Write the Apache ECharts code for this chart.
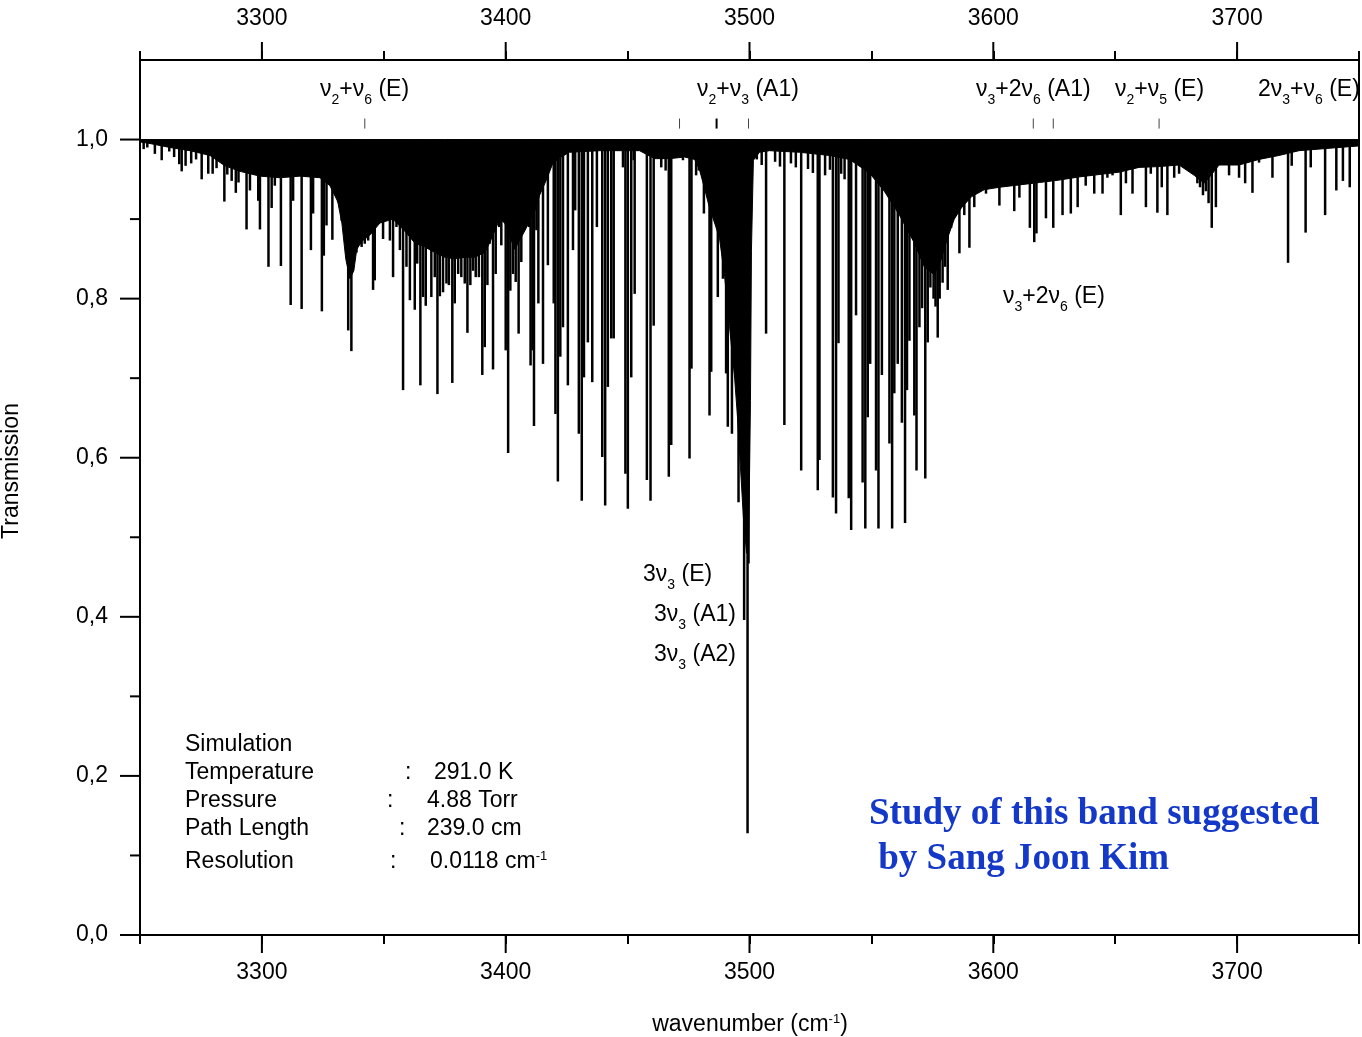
<!DOCTYPE html>
<html>
<head>
<meta charset="utf-8">
<script src="https://cdn.jsdelivr.net/npm/echarts@6/dist/echarts.min.js"></script>
<style>
  html, body { margin: 0; padding: 0; background: #fff; }
  #chart { width: 1362px; height: 1037px; }
</style>
</head>
<body>
<div id="chart"></div>
<script>
// Axis ranges and tick values
const X_MIN = 3250, X_MAX = 3750;
const Y_MIN = 0, Y_MAX = 1.1;
const xMajorTicks = [3300, 3400, 3500, 3600, 3700];
const yMajorTicks = [0, 0.2, 0.4, 0.6, 0.8, 1.0];
const yMinorTicks = [0.1, 0.3, 0.5, 0.7, 0.9];

// Individual absorption lines: [wavenumber (cm-1), transmission at line centre]
const linesLow = [
  [3251.5,0.988],[3253.0,0.990],[3256.1,0.982],[3258.9,0.974],[3262.0,0.985],[3264.0,0.978],
  [3266.1,0.969],[3267.1,0.960],[3268.7,0.967],[3271.0,0.970],[3273.0,0.975],[3275.3,0.950],
  [3278.0,0.957],[3279.8,0.957],[3281.4,0.964],[3284.6,0.922],[3285.8,0.956],[3287.6,0.948],
  [3289.3,0.933],[3290.4,0.946],[3293.7,0.887],[3295.1,0.936],[3298.5,0.923],[3299.2,0.887],
  [3302.7,0.840],[3304.0,0.914],[3305.3,0.942],[3307.8,0.841],[3311.8,0.792],[3312.8,0.923],
  [3316.3,0.787],[3320.1,0.861],[3321.0,0.907],[3324.6,0.784],[3325.4,0.854],[3326.5,0.892],
  [3328.9,0.874]
];
const linesNu2Nu6 = [
  [3331.3,0.921],[3332.7,0.898],[3335.4,0.760],[3336.7,0.734],[3338.8,0.858],[3339.5,0.877],
  [3340.9,0.865],[3342.2,0.869],[3343.6,0.873],[3344.9,0.882],[3345.6,0.811],[3346.3,0.823],
  [3347.7,0.902],[3349.0,0.898],[3349.7,0.875],[3350.4,0.917],[3351.8,0.919],[3352.5,0.873],
  [3353.8,0.827],[3355.2,0.890],[3356.6,0.861],[3357.9,0.685],[3359.3,0.840],[3360.7,0.798],
  [3362.7,0.786],[3363.7,0.844],[3365.0,0.691],[3366.1,0.802],[3367.2,0.791],[3369.5,0.802],
  [3370.9,0.827],[3372.0,0.680],[3373.0,0.803],[3374.3,0.808],[3375.7,0.819],[3376.7,0.817],
  [3378.1,0.694],[3379.1,0.794],[3380.5,0.831],[3381.8,0.827],[3383.2,0.819],[3384.3,0.757],
  [3385.5,0.817],[3386.6,0.835],[3387.7,0.827],[3389.0,0.827],[3390.4,0.704],[3391.4,0.739],
  [3392.5,0.817],[3393.4,0.869],[3394.8,0.711],[3395.9,0.831],[3397.3,0.890],[3398.2,0.867],
  [3399.3,0.910],[3400.0,0.735],[3401.0,0.606],[3401.9,0.810],[3403.0,0.831],[3404.1,0.821],
  [3405.3,0.756],[3406.4,0.846],[3409.6,0.890],[3410.2,0.716],[3411.0,0.735],[3411.6,0.640],
  [3412.6,0.886],[3413.4,0.794]
];
const linesPBranch = [
  [3415.3,0.718],[3417.3,0.842],[3419.7,0.794],[3420.4,0.655],[3421.4,0.570],[3422.4,0.727],
  [3423.5,0.764],[3425.5,0.691],[3427.6,0.861],[3428.5,0.911],[3430.0,0.630],[3431.2,0.546],
  [3432.1,0.701],[3433.7,0.745],[3435.5,0.695],[3437.4,0.890],[3439.6,0.601],[3440.8,0.540],
  [3441.9,0.689],[3443.3,0.750],[3444.3,0.750],[3448.1,0.965],[3449.1,0.580],[3450.1,0.536],
  [3451.5,0.701],[3452.5,0.974],[3452.9,0.806],[3457.9,0.572],[3459.4,0.546],[3460.7,0.766],
  [3461.8,0.977],[3463.8,0.965],[3465.6,0.961],[3466.9,0.576],[3467.9,0.616],[3469.3,0.977],
  [3472.7,0.974],[3475.4,0.599],[3476.2,0.712],[3478.1,0.955],[3479.2,0.961]
];
const linesQBranch = [
  [3481.3,0.907],[3483.6,0.653],[3484.3,0.708],[3487.0,0.802],[3489.1,0.825],[3490.4,0.706],
  [3491.1,0.639],[3492.1,0.783],[3492.8,0.630],[3493.9,0.714],[3495.5,0.544],[3497.8,0.396],
  [3499.2,0.128],[3499.6,0.467]
];
const linesRBranch = [
  [3503.0,0.975],[3505.0,0.968],[3506.8,0.756],[3510.5,0.972],[3512.5,0.966],[3514.3,0.641],
  [3517.0,0.970],[3519.0,0.965],[3521.2,0.584],[3524.0,0.963],[3526.0,0.958],[3528.0,0.559],
  [3528.7,0.597],[3531.0,0.955],[3533.0,0.962],[3534.2,0.550],[3535.5,0.530],[3536.5,0.744],
  [3537.6,0.957],[3539.0,0.950],[3540.7,0.549],[3541.7,0.509],[3543.7,0.779],[3546.4,0.569],
  [3547.5,0.511],[3548.5,0.651],[3549.5,0.718],[3551.9,0.584],[3552.9,0.511],[3554.3,0.704],
  [3557.4,0.618],[3558.5,0.511],[3559.4,0.681],[3560.8,0.718],[3562.5,0.644],[3563.8,0.518],
  [3564.6,0.685],[3565.6,0.747],[3567.6,0.653],[3568.5,0.584],[3569.7,0.764],[3570.8,0.788],
  [3572.1,0.574],[3573.1,0.745],[3574.2,0.814],[3575.5,0.800],[3576.3,0.790],[3577.2,0.751],
  [3578.0,0.800],[3579.2,0.820],[3580.2,0.840]
];
const linesHigh = [
  [3581.3,0.811],[3582.7,0.889],[3584.4,0.905],[3586.1,0.857],[3588.1,0.905],[3590.2,0.864],
  [3592.2,0.915],[3594.3,0.936],[3597.0,0.932],[3599.7,0.970],[3602.5,0.917],[3605.2,0.946],
  [3608.6,0.910],[3610.7,0.927],[3615.0,0.889],[3616.8,0.871],[3617.7,0.882],[3621.6,0.901],
  [3624.6,0.889],[3628.4,0.905],[3631.8,0.907],[3634.6,0.915],[3637.9,0.942],[3641.4,0.932],
  [3644.8,0.932],[3646.8,0.952],[3648.9,0.955],[3652.3,0.905],[3654.4,0.945],[3657.1,0.932],
  [3662.6,0.915],[3664.6,0.957],[3667.3,0.908],[3669.1,0.940],[3671.4,0.905],[3674.2,0.952],
  [3676.2,0.957],[3683.7,0.945],[3684.8,0.940],[3686.0,0.930],[3687.2,0.935],[3688.3,0.920],
  [3689.6,0.889],[3691.3,0.915],[3696.7,0.955],[3700.8,0.952],[3703.3,0.945],[3706.3,0.933],
  [3709.0,0.971],[3714.5,0.952],[3720.9,0.845],[3722.4,0.967],[3728.1,0.883],[3730.2,0.965],
  [3736.1,0.905],[3740.7,0.936],[3743.4,0.948],[3746.2,0.940]
];

// Lower edge of the unresolved dense line background: wavenumber and transmission
const envelopeWn = [
  3250,3254.1,3262.3,3270.5,3278.7,3284.8,3291.0,3299.2,3307.4,3315.6,3323.8,3327.9,3331.1,
  3332.8,3334.4,3336.1,3337.7,3338.9,3341.0,3344.3,3348.4,3353.7,3358.6,3362.7,3366.8,3370.9,
  3375.0,3379.1,3383.2,3387.3,3391.4,3393.4,3395.5,3397.5,3399.6,3403.7,3407.8,3411.9,3413.9,
  3416.8,3419.3,3422.1,3426.2,3438.5,3454.9,3461.1,3467.2,3473.4,3477.5,3479.5,3481.6,3483.6,
  3485.7,3487.7,3489.8,3491.8,3493.9,3495.1,3496.3,3497.5,3498.8,3499.6,3500.4,3500.8,3501.6,
  3504.1,3508.2,3520.5,3532.8,3541.0,3549.2,3555.3,3561.5,3567.6,3571.7,3575.8,3578.7,3581.1,
  3584.0,3586.9,3591.0,3596.3,3602.5,3610.7,3618.9,3627.0,3635.2,3643.4,3651.6,3659.8,3668.0,
  3676.2,3682.4,3686.5,3689.3,3692.6,3700.8,3709.0,3717.2,3725.4,3737.7,3750
];
const envelopeT = [
  0.997,0.995,0.990,0.986,0.980,0.967,0.960,0.954,0.952,0.954,0.952,0.942,0.922,
  0.895,0.850,0.825,0.835,0.862,0.872,0.880,0.895,0.900,0.885,0.870,0.865,0.858,
  0.852,0.850,0.852,0.852,0.858,0.870,0.885,0.900,0.895,0.862,0.885,0.910,0.930,
  0.950,0.970,0.977,0.984,0.986,0.986,0.976,0.976,0.978,0.975,0.962,0.938,0.914,
  0.895,0.876,0.828,0.765,0.700,0.650,0.588,0.525,0.480,0.480,0.672,0.861,0.974,
  0.984,0.986,0.984,0.980,0.975,0.958,0.935,0.905,0.870,0.840,0.830,0.850,0.875,
  0.900,0.914,0.928,0.937,0.940,0.943,0.946,0.949,0.953,0.956,0.959,0.965,0.966,
  0.968,0.955,0.945,0.955,0.968,0.968,0.975,0.980,0.986,0.989,0.992
];

// Band origin markers under the top labels
const bandMarks = [3342.2, 3471.3, 3486.5, 3499.6, 3616.4, 3624.6, 3668.0];
const strongMark = 3486.5;

const allLines = [].concat(linesLow, linesNu2Nu6, linesPBranch, linesQBranch, linesRBranch, linesHigh);
const envelope = envelopeWn.map((w, i) => [w, envelopeT[i]]);

const FONT = "'Liberation Sans', Arial, Helvetica, sans-serif";
const SERIF = "'Liberation Serif', 'Times New Roman', serif";

const rich = {
  m: { fontSize: 23, lineHeight: 24, verticalAlign: 'top', fontFamily: FONT, fill: '#000', color: '#000' },
  s: { fontSize: 14, lineHeight: 14, padding: [15, 0, 0, 0], verticalAlign: 'top', fontFamily: FONT, fill: '#000', color: '#000' },
  p: { fontSize: 13, lineHeight: 8, verticalAlign: 'top', fontFamily: FONT, fill: '#000', color: '#000' }
};

function richText(str, x, y, align) {
  return {
    type: 'text', x: x, y: y, silent: true, z: 100,
    style: { text: str, rich: rich, font: '23px ' + FONT, fill: '#000', align: align || 'left', verticalAlign: 'top' }
  };
}
function plainText(str, x, y) {
  return {
    type: 'text', x: x, y: y, silent: true, z: 100,
    style: { text: str, font: '23px ' + FONT, fill: '#000', align: 'left', verticalAlign: 'top' }
  };
}

const chart = echarts.init(document.getElementById('chart'), null, { renderer: 'canvas', width: 1362, height: 1037 });

const axisLineStyle = { color: '#000', width: 2 };
const xLabelFmt = v => (Math.round(v) % 100 === 0 ? String(Math.round(v)) : '');

const option = {
  animation: false,
  backgroundColor: '#fff',
  grid: { left: 140, right: 2, top: 60, bottom: 102, show: false },
  xAxis: [
    {
      type: 'value', min: X_MIN, max: X_MAX, interval: 50, position: 'bottom',
      axisLine: { show: true, onZero: false, lineStyle: axisLineStyle },
      axisTick: { show: true, inside: false, length: 9, lineStyle: { color: '#000', width: 2 } },
      axisLabel: { formatter: xLabelFmt, fontSize: 23, fontFamily: FONT, color: '#000', margin: 26 },
      splitLine: { show: false }
    },
    {
      type: 'value', min: X_MIN, max: X_MAX, interval: 50, position: 'top',
      axisLine: { show: true, onZero: false, lineStyle: axisLineStyle },
      axisTick: { show: true, inside: false, length: 9, lineStyle: { color: '#000', width: 2 } },
      axisLabel: { formatter: xLabelFmt, fontSize: 23, fontFamily: FONT, color: '#000', margin: 30 },
      splitLine: { show: false }
    }
  ],
  yAxis: [
    {
      type: 'value', min: Y_MIN, max: Y_MAX, interval: 0.2, position: 'left',
      axisLine: { show: true, onZero: false, lineStyle: axisLineStyle },
      axisTick: { show: false },
      axisLabel: {
        formatter: v => v.toFixed(1).replace('.', ','), showMaxLabel: false,
        fontSize: 23, fontFamily: FONT, color: '#000', margin: 32
      },
      splitLine: { show: false }
    },
    {
      type: 'value', min: Y_MIN, max: Y_MAX, interval: 0.2, position: 'right',
      axisLine: { show: true, onZero: false, lineStyle: axisLineStyle },
      axisTick: { show: false }, axisLabel: { show: false }, splitLine: { show: false }
    }
  ],
  series: [
    {
      // dense unresolved background absorption
      type: 'custom', xAxisIndex: 0, yAxisIndex: 0, silent: true, clip: true,
      data: [envelope[0]],
      renderItem: (params, api) => {
        const pts = envelope.map(p => api.coord(p));
        pts.push(api.coord([X_MAX, 1.0]));
        pts.push(api.coord([X_MIN, 1.0]));
        return { type: 'polygon', shape: { points: pts }, style: { fill: '#000', stroke: '#000', lineWidth: 1 } };
      }
    },
    {
      // resolved absorption lines hanging from 100 % transmission
      type: 'custom', xAxisIndex: 0, yAxisIndex: 0, silent: true, clip: true,
      data: allLines,
      renderItem: (params, api) => {
        const x = api.value(0), t = api.value(1);
        const a = api.coord([x, 1.0]);
        const b = api.coord([x, t]);
        return { type: 'line', shape: { x1: a[0], y1: a[1], x2: a[0], y2: b[1] }, style: { stroke: '#000', lineWidth: 2.5 } };
      }
    },
    {
      // band origin markers
      type: 'custom', xAxisIndex: 0, yAxisIndex: 0, silent: true, clip: false,
      data: bandMarks.map(v => [v, 1.02]),
      renderItem: (params, api) => {
        const v = api.value(0);
        const a = api.coord([v, 1.0138]);
        const b = api.coord([v, 1.0264]);
        return { type: 'line', shape: { x1: a[0], y1: a[1], x2: b[0], y2: b[1] },
          style: { stroke: v === strongMark ? '#000' : '#444', lineWidth: v === strongMark ? 2 : 1 } };
      }
    },
    {
      // long major ticks on the bottom and top wavenumber axes
      type: 'custom', xAxisIndex: 0, yAxisIndex: 0, silent: true, clip: false,
      data: xMajorTicks.map(v => [v, 0]),
      renderItem: (params, api) => {
        const v = api.value(0);
        const b = api.coord([v, Y_MIN]);
        const t = api.coord([v, Y_MAX]);
        return { type: 'group', children: [
          { type: 'line', shape: { x1: b[0], y1: b[1], x2: b[0], y2: b[1] + 18 }, style: { stroke: '#000', lineWidth: 2 } },
          { type: 'line', shape: { x1: t[0], y1: t[1], x2: t[0], y2: t[1] - 18 }, style: { stroke: '#000', lineWidth: 2 } }
        ] };
      }
    },
    {
      // transmission axis ticks (major long, minor short)
      type: 'custom', xAxisIndex: 0, yAxisIndex: 0, silent: true, clip: false,
      data: yMajorTicks.map(v => [X_MIN, v, 1]).concat(yMinorTicks.map(v => [X_MIN, v, 0])),
      renderItem: (params, api) => {
        const v = api.value(1), major = api.value(2) === 1;
        const p = api.coord([X_MIN, v]);
        const len = major ? 20 : 10;
        return { type: 'line', shape: { x1: p[0], y1: p[1], x2: p[0] - len, y2: p[1] }, style: { stroke: '#000', lineWidth: 2 } };
      }
    }
  ],
  graphic: [
    richText('{m|ν}{s|2}{m|+ν}{s|6}{m| (E)}', 320, 78),
    richText('{m|ν}{s|2}{m|+ν}{s|3}{m| (A1)}', 697, 78),
    richText('{m|ν}{s|3}{m|+2ν}{s|6}{m| (A1)}', 976, 78),
    richText('{m|ν}{s|2}{m|+ν}{s|5}{m| (E)}', 1115, 78),
    richText('{m|2ν}{s|3}{m|+ν}{s|6}{m| (E)}', 1258, 78),
    richText('{m|ν}{s|3}{m|+2ν}{s|6}{m| (E)}', 1003, 285),
    richText('{m|3ν}{s|3}{m| (E)}', 643, 563),
    richText('{m|3ν}{s|3}{m| (A1)}', 654, 603),
    richText('{m|3ν}{s|3}{m| (A2)}', 654, 643),

    plainText('Simulation', 185, 733),
    plainText('Temperature', 185, 761),
    plainText(':', 405, 761),
    plainText('291.0 K', 434, 761),
    plainText('Pressure', 185, 789),
    plainText(':', 387, 789),
    plainText('4.88 Torr', 427, 789),
    plainText('Path Length', 185, 817),
    plainText(':', 399, 817),
    plainText('239.0 cm', 427, 817),
    plainText('Resolution', 185, 850),
    plainText(':', 390, 850),
    richText('{m|0.0118 cm}{p|-1}', 430, 850),

    {
      type: 'text', x: 869, y: 814, silent: true, z: 100,
      style: { text: 'Study of this band suggested', font: 'bold 37px ' + SERIF, fill: '#1438c8', align: 'left', verticalAlign: 'middle' }
    },
    {
      type: 'text', x: 869, y: 859, silent: true, z: 100,
      style: { text: ' by Sang Joon Kim', font: 'bold 37px ' + SERIF, fill: '#1438c8', align: 'left', verticalAlign: 'middle' }
    },

    {
      type: 'text', x: 12, y: 471, rotation: Math.PI / 2, silent: true, z: 100,
      style: { text: 'Transmission', font: '23px ' + FONT, fill: '#000', align: 'center', verticalAlign: 'middle' }
    },
    richText('{m|wavenumber (cm}{p|-1}{m|)}', 750, 1013, 'center')
  ]
};

chart.setOption(option);
</script>
</body>
</html>
